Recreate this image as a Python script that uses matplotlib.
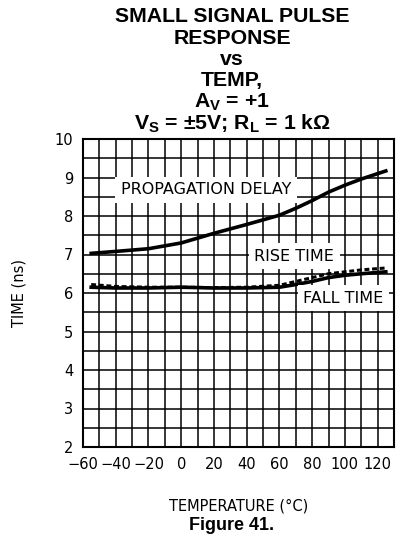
import numpy as np
import matplotlib
matplotlib.use("Agg")
import matplotlib.pyplot as plt

# Datos
temp = [-55, -40, -20, 0, 20, 40, 60, 70, 80, 90, 100, 110, 125]
prop_delay = [7.03, 7.08, 7.15, 7.30, 7.55, 7.78, 8.02, 8.20, 8.40, 8.62, 8.80, 8.96, 9.17]
rise_time = [6.22, 6.17, 6.15, 6.15, 6.14, 6.15, 6.20, 6.30, 6.40, 6.50, 6.55, 6.60, 6.65]
fall_time = [6.15, 6.13, 6.13, 6.15, 6.13, 6.13, 6.15, 6.22, 6.30, 6.40, 6.46, 6.50, 6.55]

x_ticks = [-60, -40, -20, 0, 20, 40, 60, 80, 100, 120]
y_ticks = [2, 3, 4, 5, 6, 7, 8, 9, 10]

plt.rcParams['mathtext.fontset'] = 'custom'
plt.rcParams['mathtext.rm'] = 'Liberation Sans:bold'
plt.rcParams['mathtext.it'] = 'Liberation Sans:bold'
plt.rcParams['mathtext.bf'] = 'Liberation Sans:bold'

cad = ['DejaVu Sans']

fig = plt.figure(figsize=(3.96, 5.37), dpi=100)
ax = fig.add_axes([83/396, 1 - 447/537, 311/396, 308/537])

ax.set_xlim(-60, 130)
ax.set_ylim(2, 10)
ax.set_xticks(x_ticks)
ax.set_yticks(y_ticks)
ax.set_xticks(np.arange(-60, 131, 10), minor=True)
ax.set_yticks(np.arange(2, 10.01, 0.5), minor=True)
ax.grid(True, which='both', color='black', linewidth=1.1)
ax.tick_params(which='both', length=0, labelsize=10.5, pad=7)
for lab in ax.get_xticklabels() + ax.get_yticklabels():
    lab.set_family(cad)
for s in ax.spines.values():
    s.set_linewidth(1.5)

ax.plot(temp, prop_delay, color='black', linewidth=2.6, zorder=3)
ax.plot(temp, fall_time, color='black', linewidth=2.6, zorder=3)
ax.plot(temp, rise_time, color='black', linewidth=2.2, linestyle=(0, (1.6, 0.9)), zorder=3)

box = dict(facecolor='white', edgecolor='none', pad=4)
ax.text(15, 8.68, 'PROPAGATION DELAY', ha='center', va='center', fontsize=11.5,
        family=cad, bbox=box, zorder=4)
ax.text(69, 6.96, 'RISE TIME', ha='center', va='center', fontsize=11.5,
        family=cad, bbox=box, zorder=4)
ax.text(99, 5.86, 'FALL TIME', ha='center', va='center', fontsize=11.5,
        family=cad, bbox=box, zorder=4)

ax.set_ylabel('TIME (ns)', fontsize=10.5, family=cad, labelpad=20)
ax.set_xlabel('TEMPERATURE (°C)', fontsize=10.5, family=cad, labelpad=19)

title = ['SMALL SIGNAL PULSE', 'RESPONSE', 'vs', 'TEMP,',
         'A$_{V}$ = +1', 'V$_{S}$ = ±5V; R$_{L}$ = 1 kΩ']
for i, t in enumerate(title):
    fig.text(232/396, 1 - (17 + i*21.3)/537, t, ha='center', va='center',
             fontsize=15.3, fontweight='bold', family='Liberation Sans')

fig.text(232/396, 1 - 525/537, 'Figure 41.', ha='center', va='center',
         fontsize=13, fontweight='bold', family='Liberation Sans')

fig.savefig('out.png', dpi=100)
